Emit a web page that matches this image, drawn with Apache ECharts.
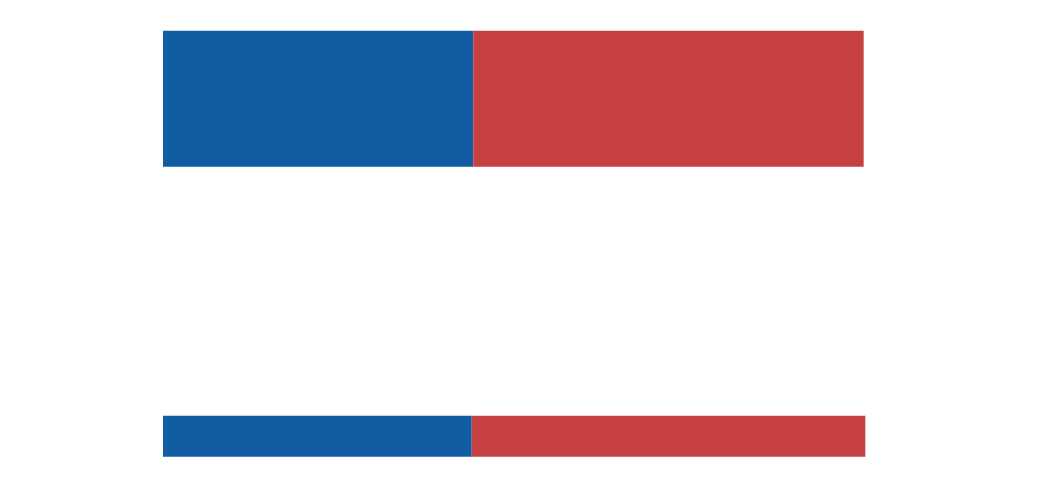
<!DOCTYPE html>
<html>
<head>
<meta charset="utf-8">
<script src="https://cdn.jsdelivr.net/npm/echarts@6/dist/echarts.min.js"></script>
<style>
  html, body { margin: 0; padding: 0; background: #fff; }
  #chart { width: 1038px; height: 499px; }
</style>
</head>
<body>
<div id="chart"></div>
<script>
// Dos barras apiladas (azul / rojo), sin ejes ni texto
const categories = ['A', 'B'];
const blueValues = [44.18, 43.96];
const redValues = [55.59, 56.04];
const barWidths = [136, 41];

const chart = echarts.init(document.getElementById('chart'));

const yAxes = categories.map(() => ({
    type: 'category',
    data: categories,
    inverse: true,
    boundaryGap: false,
    show: false
}));

const series = [];
categories.forEach((cat, i) => {
    const pick = arr => categories.map((c, j) => (j === i ? arr[j] : '-'));
    series.push({
        name: cat + '-azul',
        type: 'bar',
        stack: 'total',
        yAxisIndex: i,
        barWidth: barWidths[i],
        data: pick(blueValues),
        itemStyle: { color: '#115ca3' },
        silent: true
    });
    series.push({
        name: cat + '-rojo',
        type: 'bar',
        stack: 'total',
        yAxisIndex: i,
        barWidth: barWidths[i],
        data: pick(redValues),
        itemStyle: { color: '#c64042' },
        silent: true
    });
});

chart.setOption({
    animation: false,
    grid: { left: 163, right: 172.7, top: 98.7, bottom: 62.8 },
    xAxis: { type: 'value', min: 0, max: 100, show: false },
    yAxis: yAxes,
    series: series
});

window.addEventListener('resize', () => chart.resize());
</script>
</body>
</html>
